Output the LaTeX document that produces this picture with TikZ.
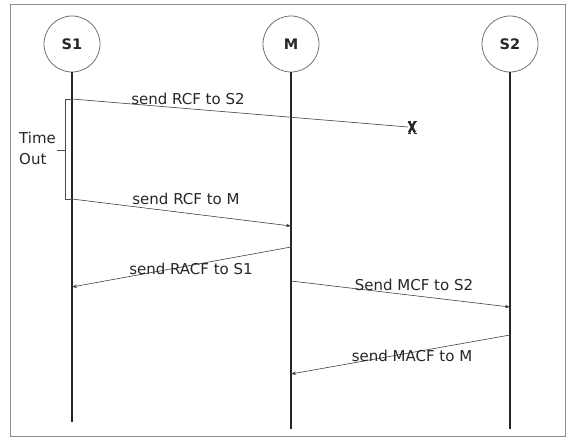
\documentclass[tikz,border=0pt]{standalone}
\usepackage{fontspec}
\setmainfont{DejaVu Sans}
\usetikzlibrary{arrows.meta}
\begin{document}
\begin{tikzpicture}[x=1pt,y=-1pt,
  actor/.style={circle,draw=black!55,line width=0.8pt,minimum size=56pt,inner sep=0pt,font=\fontsize{14.5}{17}\selectfont\bfseries,text=black!85},
  life/.style={line width=1.8pt,black!85},
  msg/.style={line width=0.6pt,black!75,-{Stealth[length=5pt,width=3.5pt]}},
  lost/.style={line width=0.6pt,black!75},
  lbl/.style={anchor=base,inner sep=0pt,font=\fontsize{15}{18}\selectfont,text=black!85},
  xmark/.style={line width=2.4pt,black!85},
  bracket/.style={line width=0.6pt,black!70}]
\useasboundingbox (0,0) rectangle (572,439);
\draw[black!45,line width=0.8pt] (10,4) rectangle (565,436);
% actors
\node[actor] (s1) at (72,44) {S1};
\node[actor] (m) at (291,44) {M};
\node[actor] (s2) at (510,44) {S2};
\coordinate (s1end) at (72,422);
\coordinate (mend) at (291,429);
\coordinate (s2end) at (510,429);
\draw[life] (s1.south) -- (s1end);
\draw[life] (m.south) -- (mend);
\draw[life] (s2.south) -- (s2end);
% message points
\coordinate (a1) at (72,99);
\coordinate (x1) at (412,127);
\coordinate (a2) at (72,199);
\coordinate (b2) at (291,226);
\coordinate (b3) at (291,247);
\coordinate (a3) at (72,287);
\coordinate (b4) at (291,281);
\coordinate (c4) at (510,307);
\coordinate (c5) at (510,335);
\coordinate (b5) at (291,374);
% messages
\draw[lost] (a1) -- ([xshift=-4]x1);
\draw[xmark] ([shift={(-3,-5.5)}]x1) -- ([shift={(3,5.5)}]x1);
\draw[xmark] ([shift={(3,-5.5)}]x1) -- ([shift={(-3,5.5)}]x1);
\draw[line width=1pt,black!85] ([shift={(-4.5,-6)}]x1) -- ([shift={(-1.5,-6)}]x1);
\draw[line width=1pt,black!85] ([shift={(1.5,-6)}]x1) -- ([shift={(4.5,-6)}]x1);
\draw[line width=1pt,black!85] ([shift={(-4.5,6)}]x1) -- ([shift={(-1.5,6)}]x1);
\draw[line width=1pt,black!85] ([shift={(1.5,6)}]x1) -- ([shift={(4.5,6)}]x1);
\draw[msg] (a2) -- (b2);
\draw[msg] (b3) -- (a3);
\draw[msg] (b4) -- (c4);
\draw[msg] (c5) -- (b5);
% labels
\node[lbl] (l1) at (188,104) {send RCF to S2};
\node[lbl] (l2) at (186,204) {send RCF to M};
\node[lbl] (l3) at (191,274) {send RACF to S1};
\node[lbl] (l4) at (414,290) {Send MCF to S2};
\node[lbl] (l5) at (412,361) {send MACF to M};
% time out bracket
\coordinate (t1) at (65,99);
\coordinate (t2) at (65,199);
\coordinate (tm) at (65,150);
\coordinate (tl) at (57,150);
\draw[bracket] (a1) -- (t1) -- (t2) -- (a2);
\draw[bracket] (tm) -- (tl);
\node[lbl,anchor=base west] (to1) at (19,143) {Time};
\node[lbl,anchor=base west] (to2) at (19,164) {Out};
\end{tikzpicture}
\end{document}
